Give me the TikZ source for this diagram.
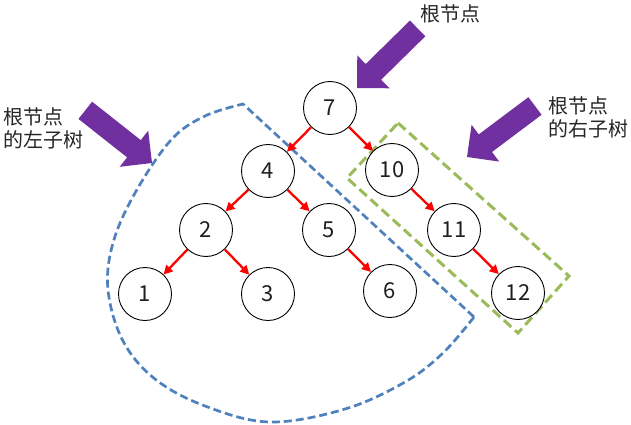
\documentclass[tikz,border=0pt]{standalone}
\usepackage{fontspec}
\setmainfont{Noto Sans CJK SC}
\usetikzlibrary{arrows.meta}
\definecolor{pur}{HTML}{7030A0}
\definecolor{bl}{HTML}{4F81BD}
\definecolor{gr}{HTML}{9BBB59}
\tikzset{
 tn/.style={circle, draw=black, line width=0.9pt, minimum size=53pt, inner sep=0pt, fill=white, text=black!88, font=\fontsize{22}{26}\selectfont},
 redarr/.style={-{Triangle[length=9pt,width=9pt]}, draw=red, line width=2.3pt},
 lbl/.style={font=\fontsize{20}{23}\selectfont, inner sep=0pt, text=black!85},
 bluedash/.style={draw=bl, line width=2.7pt, dash pattern=on 8pt off 4pt, line join=miter},
 greendash/.style={draw=gr, line width=3pt, dash pattern=on 10pt off 5pt, line join=miter},
}
\newcommand{\purplearrow}[3]{%
 \fill[pur, shift={(#1,#2)}, rotate=#3] (0,0) -- (-23,23) -- (-23,11) -- (-85,11) -- (-85,-11) -- (-23,-11) -- (-23,-23) -- cycle;
}
\begin{document}
\begin{tikzpicture}[x=1pt,y=-1pt]
\useasboundingbox (0,0) rectangle (631,425);
% region outlines
\draw[bluedash] plot[smooth, tension=0.6] coordinates {(474,317) (443,353) (405,382) (345,409) (270,422) (205,406) (155,379) (123,341) (108,290) (113,243) (135,193) (171,140) (205,116) (243,104)} -- cycle;
\draw[greendash] (398,123) -- (569,276) -- (518,333) -- (347,178) -- cycle;
% purple arrows
\purplearrow{357}{88}{224.5}
\purplearrow{152}{163}{-38.3}
\purplearrow{467}{157}{216.9}
% labels
\node[lbl] (t1) at (450,14) {根节点};
\node[lbl, anchor=west, align=left] (t2) at (3,128) {根节点\\的左子树};
\node[lbl, anchor=west, align=left] (t3) at (548,117.5) {根节点\\的右子树};
% tree nodes
\node[tn] (n7) at (330,108) {7};
\node[tn] (n4) at (268,171) {4};
\node[tn] (n10) at (392,170) {10};
\node[tn] (n2) at (206,230) {2};
\node[tn] (n5) at (329,230) {5};
\node[tn] (n11) at (454,230) {11};
\node[tn] (n1) at (145,294) {1};
\node[tn] (n3) at (268,294) {3};
\node[tn] (n6) at (390,291) {6};
\node[tn] (n12) at (518,293) {12};
% edges
\draw[redarr] (n7) -- (n4);
\draw[redarr] (n7) -- (n10);
\draw[redarr] (n4) -- (n2);
\draw[redarr] (n4) -- (n5);
\draw[redarr] (n2) -- (n1);
\draw[redarr] (n2) -- (n3);
\draw[redarr] (n5) -- (n6);
\draw[redarr] (n10) -- (n11);
\draw[redarr] (n11) -- (n12);
\end{tikzpicture}
\end{document}
